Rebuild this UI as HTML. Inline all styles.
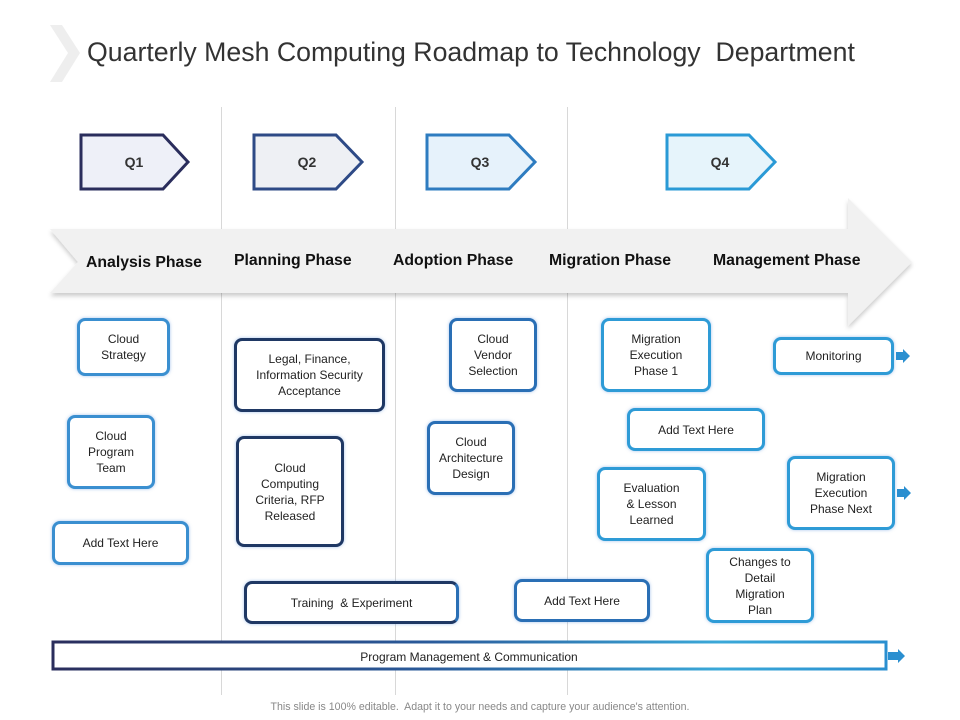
<!DOCTYPE html>
<html><head><style>
body{margin:0;width:960px;height:720px;background:#fff;font-family:"Liberation Sans",sans-serif;position:relative;overflow:hidden}
.t{position:absolute;text-align:center;color:#222;font-size:12px;line-height:16px;display:flex;align-items:center;justify-content:center;box-sizing:border-box;background:#fff;border-radius:8px;border:3px solid #3a8fd0;box-shadow:0 0 3px rgba(80,140,220,.5)}
.n{border-color:#1f3864}
.b{border-color:#2a6fb5}
.c{border-color:#2e9bd6}
.ph{position:absolute;top:252px;font-size:15.8px;font-weight:bold;color:#111}
.vl{position:absolute;top:107px;height:588px;width:1px;background:#d8d8d8}
</style></head><body>
<svg width="960" height="720" style="position:absolute;left:0;top:0">
<polygon points="50,25 62,25 80,53 62,82 50,82 68,53" fill="#eeeeee"/>
</svg>
<div style="position:absolute;left:87px;top:37px;font-size:26.7px;color:#333">Quarterly Mesh Computing Roadmap to Technology&nbsp; Department</div>
<div class="vl" style="left:221px"></div><div class="vl" style="left:395px"></div><div class="vl" style="left:567px"></div>
<svg width="960" height="720" style="position:absolute;left:0;top:0">
<defs><filter id="s"><feDropShadow dx="0" dy="3" stdDeviation="2" flood-color="#000" flood-opacity=".2"/></filter>
<linearGradient id="g" x1="0" x2="1"><stop offset="0" stop-color="#2a2d5c"/><stop offset=".45" stop-color="#2a5a9a"/><stop offset=".8" stop-color="#3aa8d8"/><stop offset="1" stop-color="#2a8fd0"/></linearGradient></defs>
<polygon points="50,229 848,229 848,198 912,262 848,326 848,293 50,293 78,262" fill="#f1f1f1" filter="url(#s)"/>
<polygon points="81,135 163,135 188,162 163,189 81,189" fill="#eef0f8" stroke="#2a2d5c" stroke-width="3"/>
<polygon points="254,135 336,135 362,162 336,189 254,189" fill="#eef0f4" stroke="#2e4a86" stroke-width="3"/>
<polygon points="427,135 509,135 535,162 509,189 427,189" fill="#e6f2fb" stroke="#2e7cc0" stroke-width="3"/>
<polygon points="667,135 749,135 775,162 749,189 667,189" fill="#e6f4fb" stroke="#2a9ad6" stroke-width="3"/>
<rect x="53" y="642" width="833" height="27" fill="#fff" stroke="url(#g)" stroke-width="3"/>
<polygon points="888,652 898,652 898,649 905,656 898,663 898,660 888,660" fill="#2a8fd0"/>
<polygon points="896,352 903,352 903,349 910,356 903,363 903,360 896,360" fill="#2a8fd0"/>
<polygon points="897,489 904,489 904,486 911,493 904,500 904,497 897,497" fill="#2a8fd0"/>
<text x="134" y="167" font-size="14" text-anchor="middle" fill="#333" font-weight="bold">Q1</text>
<text x="307" y="167" font-size="14" text-anchor="middle" fill="#333" font-weight="bold">Q2</text>
<text x="480" y="167" font-size="14" text-anchor="middle" fill="#333" font-weight="bold">Q3</text>
<text x="720" y="167" font-size="14" text-anchor="middle" fill="#333" font-weight="bold">Q4</text>
<text x="469" y="661" font-size="12" text-anchor="middle" fill="#222">Program  Management  &amp; Communication</text>
</svg>
<div class="ph" style="left:86px;top:254px">Analysis Phase</div>
<div class="ph" style="left:234px">Planning Phase</div>
<div class="ph" style="left:393px">Adoption Phase</div>
<div class="ph" style="left:549px">Migration Phase</div>
<div class="ph" style="left:713px">Management Phase</div>
<div class="t" style="left:77px;top:318px;width:93px;height:58px">Cloud<br>Strategy</div>
<div class="t" style="left:67px;top:415px;width:88px;height:74px">Cloud<br>Program<br>Team</div>
<div class="t" style="left:52px;top:521px;width:137px;height:44px">Add Text Here</div>
<div class="t n" style="left:234px;top:338px;width:151px;height:74px">Legal, Finance,<br>Information Security<br>Acceptance</div>
<div class="t n" style="left:236px;top:436px;width:108px;height:111px">Cloud<br>Computing<br>Criteria, RFP<br>Released</div>
<div class="t n" style="left:244px;top:581px;width:215px;height:43px;border-right-color:#2a6fb5">Training&nbsp; &amp; Experiment</div>
<div class="t b" style="left:449px;top:318px;width:88px;height:74px">Cloud<br>Vendor<br>Selection</div>
<div class="t b" style="left:427px;top:421px;width:88px;height:74px">Cloud<br>Architecture<br>Design</div>
<div class="t b" style="left:514px;top:579px;width:136px;height:43px">Add Text Here</div>
<div class="t c" style="left:601px;top:318px;width:110px;height:74px">Migration<br>Execution<br>Phase 1</div>
<div class="t c" style="left:627px;top:408px;width:138px;height:43px">Add Text Here</div>
<div class="t c" style="left:597px;top:467px;width:109px;height:74px">Evaluation<br>&amp; Lesson<br>Learned</div>
<div class="t c" style="left:706px;top:548px;width:108px;height:75px">Changes to<br>Detail<br>Migration<br>Plan</div>
<div class="t c" style="left:773px;top:337px;width:121px;height:38px">Monitoring</div>
<div class="t c" style="left:787px;top:456px;width:108px;height:74px">Migration<br>Execution<br>Phase Next</div>
<div style="position:absolute;left:0;width:960px;top:701px;text-align:center;font-size:10.6px;color:#888">This slide is 100% editable.&nbsp; Adapt it to your needs and capture your audience's attention.</div>
</body></html>
